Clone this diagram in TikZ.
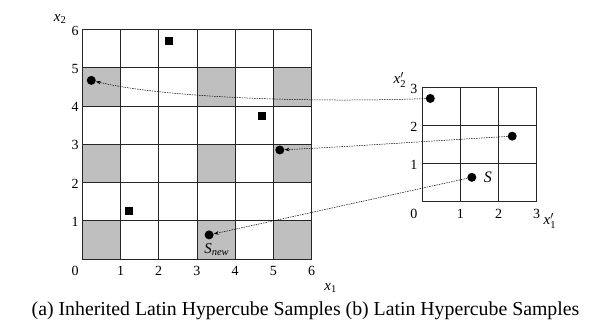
\documentclass[tikz,border=0pt]{standalone}
\usepackage{amsmath}
\usepackage{fontspec}
\setmainfont{Liberation Serif}
\usetikzlibrary{arrows.meta}
\tikzset{
  gridline/.style={line width=0.8pt, draw=black!85},
  grayfill/.style={fill=black!25},
  dot/.style={circle, fill=black, inner sep=0pt, minimum size=9pt},
  sq/.style={rectangle, fill=black, inner sep=0pt, minimum size=8pt},
  num/.style={font=\fontsize{14}{16}\selectfont, inner sep=0pt},
  axlabel/.style={font=\fontsize{15}{17}\selectfont, inner sep=0pt},
  link/.style={line width=0.5pt, dash pattern=on 1.5pt off 1pt, -{Stealth[length=5pt,width=3.5pt]}},
}
\begin{document}
\begin{tikzpicture}[x=1pt,y=-1pt]
\useasboundingbox (0,0) rectangle (610,336);
% left grid
\begin{scope}[shift={(82.3,259)}, x=38.2pt, y=38.25pt]
  \foreach \c/\r in {0/0,3/0,5/0,0/2,3/2,5/2,0/4,3/4,5/4}
    \fill[grayfill] (\c,\r) rectangle ++(1,1);
  \foreach \k in {0,...,6} {
    \draw[gridline] (\k,0) -- (\k,6);
    \draw[gridline] (0,\k) -- (6,\k);
  }
  \node[sq] (sa) at (2.28,5.69) {};
  \node[sq] (sb) at (4.70,3.73) {};
  \node[sq] (sc) at (1.21,1.25) {};
  \node[dot] (lc1) at (0.235,4.67) {};
  \node[dot] (lc2) at (5.17,2.85) {};
  \node[dot] (lc3) at (3.32,0.63) {};
  \node[num] (lx0) at (-0.19,-0.31) {0};
  \foreach \k in {1,...,6} \node[num] (lx\k) at (\k,-0.31) {\k};
  \foreach \k in {1,...,6} \node[num] (ly\k) at (-0.19,\k-0.03) {\k};
  \node[axlabel] (lxtwo) at (-0.58,6.27) {$\textit{x}_{\textrm{2}}$};
  \node[axlabel] (lxone) at (6.5,-0.76) {$\textit{x}_{\textrm{1}}$};
  \node[axlabel] (snew) at (3.52,0.25) {$\textit{S}_{\textit{new}}$};
\end{scope}
% right grid
\begin{scope}[shift={(422.3,201.7)}, x=38.1pt, y=38.1pt]
  \foreach \k in {0,...,3} {
    \draw[gridline] (\k,0) -- (\k,3);
    \draw[gridline] (0,\k) -- (3,\k);
  }
  \node[dot] (rc1) at (0.21,2.71) {};
  \node[dot] (rc2) at (2.36,1.72) {};
  \node[dot] (rc3) at (1.30,0.64) {};
  \node[num] (rx0) at (-0.22,-0.32) {0};
  \foreach \k in {1,...,3} \node[num] (rx\k) at (\k,-0.32) {\k};
  \foreach \k in {1,...,3} \node[num] (ry\k) at (-0.22,\k-0.03) {\k};
  \node[axlabel] (rxtwo) at (-0.59,3.19) {$\textit{x}^{\prime}_{\textrm{2}}$};
  \node[axlabel] (rxone) at (3.35,-0.51) {$\textit{x}^{\prime}_{\textrm{1}}$};
  \node[axlabel, font=\fontsize{16}{18}\selectfont] (slab) at (1.72,0.65) {\textit{S}};
\end{scope}
% connectors
\draw[link] (rc1) .. controls (300,103) and (160,97) .. (lc1);
\draw[link] (rc2) .. controls (430,141) and (360,146) .. (lc2);
\draw[link] (rc3) -- (lc3);
% caption
\node[font=\fontsize{19.8}{23}\selectfont, inner sep=0pt] (cap) at (305.5,311)
  {(a) Inherited Latin Hypercube Samples (b) Latin Hypercube Samples};
\end{tikzpicture}
\end{document}
